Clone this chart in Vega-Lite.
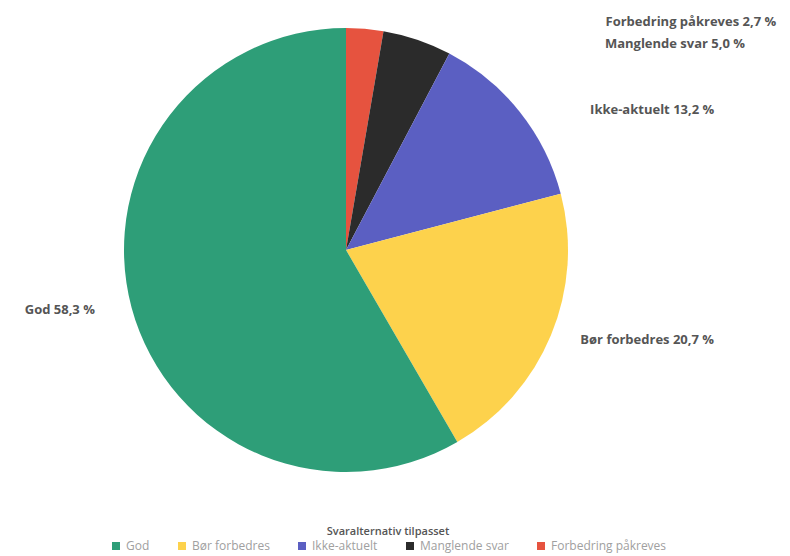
{
  "$schema": "https://vega.github.io/schema/vega-lite/v6.json",
  "autosize": "none",
  "width": 692,
  "height": 444,
  "padding": {"left": 0, "top": 28, "right": 98, "bottom": 84},
  "background": "white",
  "config": {"view": {"stroke": null}, "font": "Open Sans"},
  "data": {
    "values": [
      {"svar": "Forbedring påkreves", "andel": 2.7, "ord": 1, "etikett": "Forbedring påkreves 2,7 %"},
      {"svar": "Manglende svar", "andel": 5.0, "ord": 2, "etikett": "Manglende svar 5,0 %"},
      {"svar": "Ikke-aktuelt", "andel": 13.2, "ord": 3, "etikett": "Ikke-aktuelt 13,2 %"},
      {"svar": "Bør forbedres", "andel": 20.7, "ord": 4, "etikett": "Bør forbedres 20,7 %"},
      {"svar": "God", "andel": 58.3, "ord": 5, "etikett": "God 58,3 %"}
    ]
  },
  "transform": [
    {"window": [{"op": "sum", "field": "andel", "as": "cum"}], "sort": [{"field": "ord"}], "frame": [null, 0]},
    {"calculate": "datum.cum - datum.andel / 2", "as": "mid"}
  ],
  "layer": [
    {
      "mark": {"type": "arc", "outerRadius": 222},
      "encoding": {
        "theta": {"field": "andel", "type": "quantitative", "stack": "zero"},
        "order": {"field": "ord", "type": "quantitative"},
        "color": {
          "field": "svar",
          "type": "nominal",
          "scale": {
            "domain": ["God", "Bør forbedres", "Ikke-aktuelt", "Manglende svar", "Forbedring påkreves"],
            "range": ["#2e9e78", "#fdd24c", "#5b5fc2", "#2b2b2b", "#e6533f"]
          },
          "legend": {
            "title": "Svaralternativ tilpasset",
            "orient": "none",
            "direction": "horizontal",
            "legendX": 110,
            "legendY": 498,
            "titleAnchor": "middle",
            "titleFont": "Open Sans",
            "titleFontSize": 11,
            "titleFontWeight": 600,
            "titleColor": "#555555",
            "titlePadding": 3,
            "labelFont": "Open Sans",
            "labelFontSize": 12,
            "labelColor": "#a0a0a0",
            "symbolType": "square",
            "symbolSize": 64,
            "symbolStrokeWidth": 0,
            "columnPadding": 26,
            "labelOffset": 4
          }
        }
      }
    },
    {
      "transform": [{"filter": "datum.ord == 1"}],
      "mark": {"type": "text", "align": "left", "baseline": "middle", "dx": 240, "dy": 1, "fontSize": 13, "fontWeight": "bold", "color": "#555555", "font": "Open Sans"},
      "encoding": {"theta": {"field": "mid", "type": "quantitative", "stack": null}, "radius": {"value": 230}, "text": {"field": "etikett"}}
    },
    {
      "transform": [{"filter": "datum.ord == 2"}],
      "mark": {"type": "text", "align": "left", "baseline": "middle", "dx": 185, "dy": 12, "fontSize": 13, "fontWeight": "bold", "color": "#555555", "font": "Open Sans"},
      "encoding": {"theta": {"field": "mid", "type": "quantitative", "stack": null}, "radius": {"value": 230}, "text": {"field": "etikett"}}
    },
    {
      "transform": [{"filter": "datum.ord == 3"}],
      "mark": {"type": "text", "align": "left", "baseline": "middle", "dx": 64, "dy": 3, "fontSize": 13, "fontWeight": "bold", "color": "#555555", "font": "Open Sans"},
      "encoding": {"theta": {"field": "mid", "type": "quantitative", "stack": null}, "radius": {"value": 230}, "text": {"field": "etikett"}}
    },
    {
      "transform": [{"filter": "datum.ord == 4"}],
      "mark": {"type": "text", "align": "left", "baseline": "middle", "dx": 22, "dy": 2, "fontSize": 13, "fontWeight": "bold", "color": "#555555", "font": "Open Sans"},
      "encoding": {"theta": {"field": "mid", "type": "quantitative", "stack": null}, "radius": {"value": 230}, "text": {"field": "etikett"}}
    },
    {
      "transform": [{"filter": "datum.ord == 5"}],
      "mark": {"type": "text", "align": "right", "baseline": "middle", "dx": -29, "dy": 0, "fontSize": 13, "fontWeight": "bold", "color": "#555555", "font": "Open Sans"},
      "encoding": {"theta": {"field": "mid", "type": "quantitative", "stack": null}, "radius": {"value": 230}, "text": {"field": "etikett"}}
    }
  ]
}
